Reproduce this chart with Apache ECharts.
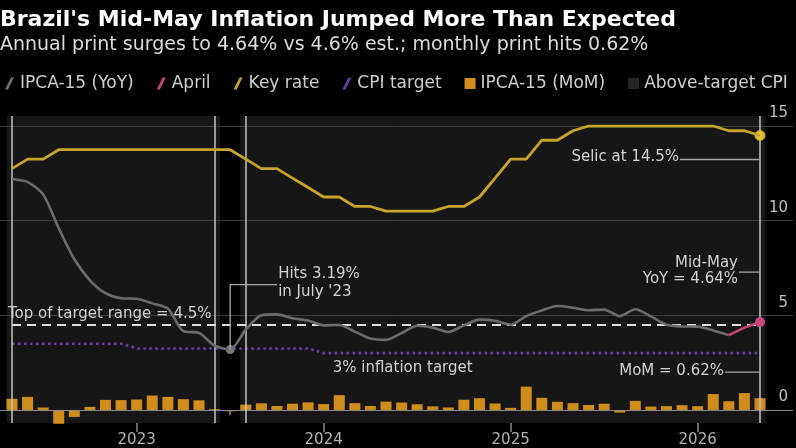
<!DOCTYPE html>
<html><head><meta charset="utf-8">
<script src="https://cdn.jsdelivr.net/npm/echarts@6/dist/echarts.min.js"></script>
<style>html,body{margin:0;padding:0;background:#000;}#c{width:796px;height:448px;}</style>
</head><body><div id="c"></div>
<script>
const months = ['2022-05','2022-06','2022-07','2022-08','2022-09','2022-10','2022-11','2022-12',
'2023-01','2023-02','2023-03','2023-04','2023-05','2023-06','2023-07','2023-08','2023-09','2023-10','2023-11','2023-12',
'2024-01','2024-02','2024-03','2024-04','2024-05','2024-06','2024-07','2024-08','2024-09','2024-10','2024-11','2024-12',
'2025-01','2025-02','2025-03','2025-04','2025-05','2025-06','2025-07','2025-08','2025-09','2025-10','2025-11','2025-12',
'2026-01','2026-02','2026-03','2026-04','2026-05'];
const yoy = [12.20,12.04,11.39,9.60,7.96,6.85,6.17,5.90,
5.87,5.63,5.36,4.16,4.07,3.40,3.19,4.24,5.00,5.05,4.84,4.72,
4.47,4.49,4.14,3.77,3.70,4.06,4.45,4.35,4.12,4.47,4.77,4.71,
4.50,4.96,5.26,5.49,5.40,5.27,5.30,4.95,5.32,4.94,4.50,4.41,
4.40,4.20,3.95,null,null];
const april = [null,null,null,null,null,null,null,null,
null,null,null,null,null,null,null,null,null,null,null,null,
null,null,null,null,null,null,null,null,null,null,null,null,
null,null,null,null,null,null,null,null,null,null,null,null,
null,null,3.95,4.35,4.64];
const keyRate = [12.75,13.25,13.25,13.75,13.75,13.75,13.75,13.75,
13.75,13.75,13.75,13.75,13.75,13.75,13.75,13.25,12.75,12.75,12.25,11.75,
11.25,11.25,10.75,10.75,10.50,10.50,10.50,10.50,10.75,10.75,11.25,12.25,
13.25,13.25,14.25,14.25,14.75,15.00,15.00,15.00,15.00,15.00,15.00,15.00,
15.00,15.00,14.75,14.75,14.50];
const cpiTarget = [3.5,3.5,3.5,3.5,3.5,3.5,3.5,3.5,
3.25,3.25,3.25,3.25,3.25,3.25,3.25,3.25,3.25,3.25,3.25,3.25,
3,3,3,3,3,3,3,3,3,3,3,3,
3,3,3,3,3,3,3,3,3,3,3,3,
3,3,3,3,3];
const mom = [0.59,0.69,0.13,-0.73,-0.37,0.16,0.53,0.52,
0.55,0.76,0.69,0.57,0.51,0.04,-0.07,0.28,0.35,0.21,0.33,0.40,
0.31,0.78,0.36,0.21,0.44,0.39,0.30,0.19,0.13,0.54,0.62,0.34,
0.11,1.23,0.64,0.43,0.36,0.26,0.33,-0.14,0.48,0.18,0.20,0.25,
0.20,0.84,0.46,0.89,0.62];
const aboveTarget = [['2022-05','2023-06'],['2023-08','2026-05']];
const topTarget = 4.5;
const yTicks = [0,5,10,15];
const Y_MIN = -0.69, Y_MAX = 15.53;

const FONT = 'DejaVu Sans';
const BAR_W = 11;
const slash = 'path://M0,12 L6,0 L9,0 L3,12 Z';
const sq = 'path://M0,0 L10,0 L10,10 L0,10 Z';
const last = months.length - 1;

const chart = echarts.init(document.getElementById('c'), null, {renderer:'canvas'});
const option = {
  backgroundColor:'#000',
  animation:false,
  textStyle:{fontFamily:FONT},
  title:{
    text:"Brazil's Mid-May Inflation Jumped More Than Expected",
    subtext:'Annual print surges to 4.64% vs 4.6% est.; monthly print hits 0.62%',
    left:-5, top:4, itemGap:5,
    textStyle:{color:'#ffffff', fontSize:22, fontWeight:'bold', fontFamily:FONT},
    subtextStyle:{color:'#dcdcdc', fontSize:19, fontFamily:FONT}
  },
  legend:{
    left:0, top:70, itemGap:23, itemWidth:11, itemHeight:12,
    textStyle:{color:'#cfcfcf', fontSize:17, fontFamily:FONT},
    data:[
      {name:'IPCA-15 (YoY)', icon:slash},
      {name:'April', icon:slash},
      {name:'Key rate', icon:slash},
      {name:'CPI target', icon:slash},
      {name:'IPCA-15 (MoM)', icon:sq},
      {name:'Above-target CPI', icon:sq, itemStyle:{color:'#262626'}}
    ]
  },
  grid:[
    {left:12, right:36, top:116, bottom:25},
    {left:0, right:3, top:116, bottom:25}
  ],
  xAxis:[
    {type:'category', gridIndex:0, data:months, boundaryGap:false,
     axisLine:{show:false}, axisLabel:{show:false}, splitLine:{show:false},
     axisTick:{show:true, interval:0, length:5, lineStyle:{color:'#8c8c8c', width:1.5}}},
    {type:'category', gridIndex:0, data:months, boundaryGap:false, position:'bottom',
     axisLine:{show:false}, splitLine:{show:false},
     axisTick:{show:true, length:9, interval:(i,v)=>v.endsWith('-01'), lineStyle:{color:'#8c8c8c', width:1.5}},
     axisLabel:{show:true, interval:(i,v)=>v.endsWith('-01'), formatter:v=>v.slice(0,4), color:'#b4b4b4', fontSize:15, margin:10, fontFamily:FONT}},
    {type:'value', gridIndex:1, min:0, max:1, show:false}
  ],
  yAxis:[
    {type:'value', gridIndex:0, min:Y_MIN, max:Y_MAX, show:false},
    {type:'value', gridIndex:1, min:Y_MIN, max:Y_MAX, show:false}
  ],
  series:[
    {name:'Above-target CPI', type:'custom', xAxisIndex:0, yAxisIndex:0, z:1,
     color:'#161616', clip:false,
     encode:{x:[0,1], y:2},
     data:aboveTarget.map(p=>[months.indexOf(p[0]), months.indexOf(p[1]), 0]),
     renderItem:(params, api)=>{
       const cs = params.coordSys;
       const x0 = api.coord([api.value(0), 0])[0] - BAR_W/2;
       const x1 = api.coord([api.value(1), 0])[0] + BAR_W/2;
       return {type:'rect', shape:{x:x0, y:cs.y, width:x1-x0, height:cs.height}, style:{fill:'#161616'}};
     }},
    {name:'_grid', type:'line', xAxisIndex:2, yAxisIndex:1, z:2, data:[], silent:true,
     markLine:{silent:true, symbol:'none', animation:false,
       data:yTicks.map(v=>({yAxis:v,
         lineStyle:{color: v===0 ? '#8a8a8a' : '#3e3e3e', width:1, type:'solid'},
         label:{show:true, formatter:String(v), position:'insideEndTop', color:'#c0c0c0', fontSize:15, distance:5, fontFamily:FONT}}))}},
    {name:'IPCA-15 (MoM)', type:'bar', xAxisIndex:0, yAxisIndex:0, z:3, clip:false,
     barWidth:BAR_W, color:'#d18d1c', data:mom,
     markLine:{silent:true, symbol:'none', animation:false, label:{show:false},
       lineStyle:{color:'#c4c4c4', width:1.5, type:'solid'},
       data:[...new Set(aboveTarget.flat().concat([months[last]]))].map(m=>({xAxis:m}))}},
    {name:'CPI target', type:'line', xAxisIndex:0, yAxisIndex:0, z:4, data:cpiTarget,
     color:'#6e3fa6', showSymbol:false, symbol:'none',
     lineStyle:{color:'#6e3fa6', width:2.6, type:[2.5,3.5]},
     markLine:{silent:true, symbol:'none', animation:false, label:{show:false},
       lineStyle:{color:'#dedede', width:2.2, type:[9,6]},
       data:[{yAxis:topTarget}]}},
    {name:'Key rate', type:'line', xAxisIndex:0, yAxisIndex:0, z:5, data:keyRate,
     color:'#c9a42a', showSymbol:false, symbol:'none',
     lineStyle:{color:'#c9a42a', width:2.8},
     markPoint:{symbol:'circle', symbolSize:10, label:{show:false}, silent:true,
       itemStyle:{color:'#e2bf3a', borderColor:'#c9a42a', borderWidth:1},
       data:[{coord:[months[last], keyRate[last]]}]}},
    {name:'IPCA-15 (YoY)', type:'line', xAxisIndex:0, yAxisIndex:0, z:6, data:yoy,
     color:'#707070', showSymbol:false, symbol:'none', smooth:0.25,
     lineStyle:{color:'#6c6c6c', width:2.6},
     markPoint:{symbol:'circle', symbolSize:9, label:{show:false}, silent:true,
       itemStyle:{color:'#7a7a7a'},
       data:[{coord:[months[14], yoy[14]]}]}},
    {name:'April', type:'line', xAxisIndex:0, yAxisIndex:0, z:7, data:april,
     color:'#c8467c', showSymbol:false, symbol:'none',
     lineStyle:{color:'#c8467c', width:2.6},
     markPoint:{symbol:'circle', symbolSize:10, label:{show:false}, silent:true,
       itemStyle:{color:'#c8467c'},
       data:[{coord:[months[last], april[last]]}]}}
  ]
};
chart.setOption(option);

const P = (m, v) => chart.convertToPixel({xAxisIndex:0, yAxisIndex:0}, [m, v]);
const pSel = P(months[last], keyRate[last]);
const pYoy = P(months[last], april[last]);
const pMom = P(months[last], mom[last]);
const pHit = P(months[14], yoy[14]);
const p45 = P(months[0], topTarget);
const p3 = P(months[20], cpiTarget[20]);
const txt = {fill:'#d2d2d2', fontSize:15, fontFamily:FONT};
const ln = {stroke:'#a8a8a8', lineWidth:1.3};
const T = (x, y, text, align, extra) => ({type:'text', z:100, x:x, y:y, silent:true,
  style:Object.assign({text:text, align:align, verticalAlign:'middle'}, txt, extra||{})});
const L = (x1, y1, x2, y2) => ({type:'line', z:100, silent:true, shape:{x1:x1, y1:y1, x2:x2, y2:y2}, style:ln});
chart.setOption({graphic:[
  T(pSel[0]-81, pSel[1]+22, 'Selic at 14.5%', 'right'),
  L(pSel[0]-80, pSel[1]+24, pSel[0], pSel[1]+24),
  T(pYoy[0]-22, pYoy[1]-51, 'Mid-May\nYoY = 4.64%', 'right', {lineHeight:16}),
  L(pYoy[0]-21, pYoy[1]-50, pYoy[0], pYoy[1]-50),
  T(pMom[0]-36, pMom[1]-27, 'MoM = 0.62%', 'right'),
  L(pMom[0]-35, pMom[1]-26, pMom[0], pMom[1]-26),
  L(pHit[0], pHit[1], pHit[0], pHit[1]-65),
  L(pHit[0], pHit[1]-65, pHit[0]+47, pHit[1]-65),
  T(pHit[0]+48, pHit[1]-66, "Hits 3.19%\nin July '23", 'left', {lineHeight:18}),
  T(8, p45[1]-11, 'Top of target range = 4.5%', 'left'),
  T(p3[0]+9, p3[1]+15, '3% inflation target', 'left')
]});
</script></body></html>
